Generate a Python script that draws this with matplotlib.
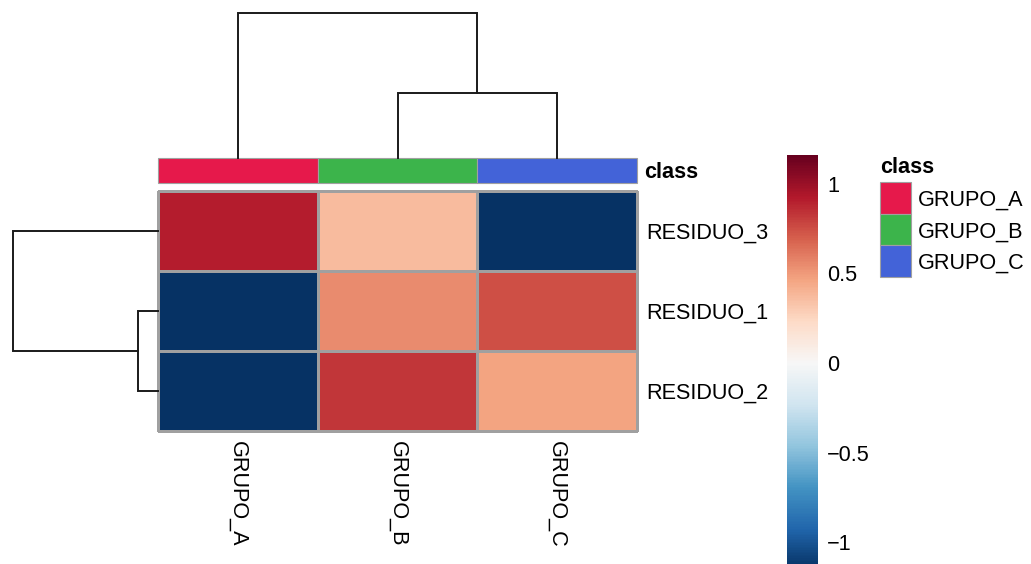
import numpy as np
import matplotlib
matplotlib.use("Agg")
import matplotlib.pyplot as plt

plt.rcParams['font.family'] = ['Liberation Sans', 'DejaVu Sans']

# ---- data (rows/columns in dendrogram order) ----
row_labels = ["RESIDUO_3", "RESIDUO_1", "RESIDUO_2"]
col_labels = ["GRUPO_A", "GRUPO_B", "GRUPO_C"]
residuo_3 = [0.91, 0.37, -1.15]
residuo_1 = [-1.15, 0.55, 0.75]
residuo_2 = [-1.15, 0.83, 0.47]

col_class = ["GRUPO_A", "GRUPO_B", "GRUPO_C"]
class_names = ["GRUPO_A", "GRUPO_B", "GRUPO_C"]
class_colors = ["#e6194B", "#3cb44b", "#4363d8"]

# hierarchical merges: (child_a, child_b, height); leaves are 0..n-1, new nodes n, n+1, ...
col_merges = [(1, 2, 0.45), (0, 3, 1.0)]
row_merges = [(1, 2, 0.14), (0, 3, 1.0)]

cbar_ticks = [-1, -0.5, 0, 0.5, 1]
cbar_tick_labels = ["\u22121", "\u22120.5", "0", "0.5", "1"]
vmin, vmax = -1.16, 1.16

data = np.array([residuo_3, residuo_1, residuo_2])
nrow, ncol = data.shape

W, H = 1031, 564
fig = plt.figure(figsize=(W / 100, H / 100), dpi=100)
FS = 15.6
GRID = "#a0a0a0"
LINE = "#1a1a1a"
EDGE_LW = 0.8


def px_axes(x0, y0, x1, y1):
    ax = fig.add_axes([x0 / W, 1 - y1 / H, (x1 - x0) / W, (y1 - y0) / H])
    ax.set_axis_off()
    return ax


def dendro_segments(n, merges):
    pos = [i + 0.5 for i in range(n)]
    hgt = [0.0] * n
    segs = []
    for a, b, h in merges:
        segs.append(([pos[a], pos[a], pos[b], pos[b]], [hgt[a], h, h, hgt[b]]))
        pos.append((pos[a] + pos[b]) / 2)
        hgt.append(h)
    return segs


# heatmap
ax = px_axes(158, 191, 637, 431)
mesh = ax.pcolormesh(np.arange(ncol + 1), np.arange(nrow + 1), data,
                     cmap="RdBu_r", vmin=vmin, vmax=vmax,
                     edgecolors=GRID, linewidth=EDGE_LW)
mesh.set_clip_on(False)
ax.set_xlim(0, ncol)
ax.set_ylim(nrow, 0)
for i, lab in enumerate(row_labels):
    ax.annotate(lab, xy=(ncol, i + 0.5), xytext=(6.5, 0), textcoords="offset points",
                ha="left", va="center_baseline", fontsize=FS)
for j, lab in enumerate(col_labels):
    ax.annotate(lab, xy=(j + 0.5, nrow), xytext=(0, -7.2), textcoords="offset points",
                ha="center", va="top", rotation=270, fontsize=FS)

# column annotation bar
ax_ann = px_axes(158, 158, 637, 183)
ax_ann.bar(np.arange(ncol), 1, width=1, align="edge",
           color=[class_colors[class_names.index(c)] for c in col_class],
           edgecolor=GRID, linewidth=EDGE_LW, clip_on=False)
ax_ann.set_xlim(0, ncol)
ax_ann.set_ylim(0, 1)
ax_ann.annotate("class", xy=(ncol, 0.5), xytext=(5.4, 0), textcoords="offset points",
                ha="left", va="center_baseline", fontsize=FS, fontweight="bold")

# column dendrogram
ax_cd = px_axes(158, 13, 637, 158)
for xs, ys in dendro_segments(ncol, col_merges):
    ax_cd.plot(xs, ys, color=LINE, lw=1.4, clip_on=False, solid_joinstyle="miter")
ax_cd.set_xlim(0, ncol)
ax_cd.set_ylim(0, 1)

# row dendrogram
ax_rd = px_axes(13, 191, 158, 431)
for ys, xs in dendro_segments(nrow, row_merges):
    ax_rd.plot(xs, ys, color=LINE, lw=1.4, clip_on=False, solid_joinstyle="miter")
ax_rd.set_xlim(1, 0)
ax_rd.set_ylim(nrow, 0)

# colour bar
cax = fig.add_axes([787 / W, 1 - 571 / H, 31 / W, (571 - 155) / H])
cb = fig.colorbar(mesh, cax=cax)
cb.outline.set_visible(False)
cb.set_ticks(cbar_ticks)
cb.set_ticklabels(cbar_tick_labels)
cax.tick_params(length=0, pad=6.5, labelsize=FS)

# class legend
ax_leg = px_axes(880, 182, 911, 277)
ax_leg.bar(np.zeros(len(class_names)), 1, bottom=np.arange(len(class_names)), width=1,
           align="edge", color=class_colors, edgecolor=GRID, linewidth=EDGE_LW, clip_on=False)
ax_leg.set_xlim(0, 1)
ax_leg.set_ylim(len(class_names), 0)
for k, name in enumerate(class_names):
    ax_leg.annotate(name, xy=(1, k + 0.5), xytext=(5, 0), textcoords="offset points",
                    ha="left", va="center_baseline", fontsize=FS)
ax_leg.annotate("class", xy=(0, 0), xytext=(0, 3), textcoords="offset points",
                ha="left", va="bottom", fontsize=FS, fontweight="bold")

fig.savefig("out.png", dpi=100)
